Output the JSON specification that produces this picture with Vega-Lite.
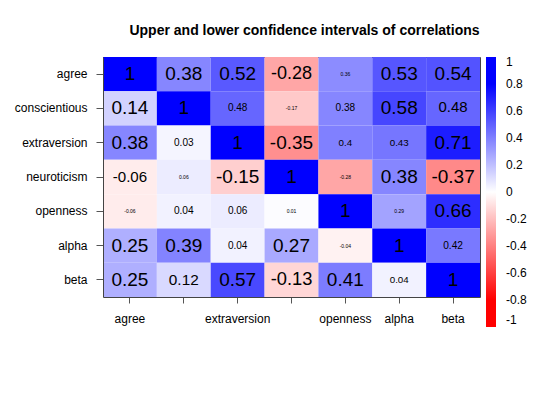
{
  "$schema": "https://vega.github.io/schema/vega-lite/v6.json",
  "width": 377,
  "height": 240,
  "autosize": "none",
  "padding": {"left": 103, "top": 57, "right": 60, "bottom": 103},
  "background": "white",
  "config": {
    "font": "Liberation Sans",
    "view": {"stroke": null}
  },
  "title": {
    "text": "Upper and lower confidence intervals of correlations",
    "font": "Liberation Sans",
    "fontSize": 14,
    "fontWeight": "bold",
    "color": "black",
    "anchor": "middle",
    "baseline": "alphabetic",
    "offset": 8,
    "dx": 13
  },
  "resolve": {"axis": {"x": "independent", "y": "independent"}},
  "data": {
    "values": [
      {"row": "agree", "col": "agree", "r": 1, "p": 0},
      {"row": "agree", "col": "conscientious", "r": 0.38, "p": 0},
      {"row": "agree", "col": "extraversion", "r": 0.52, "p": 0},
      {"row": "agree", "col": "neuroticism", "r": -0.28, "p": 0.07},
      {"row": "agree", "col": "openness", "r": 0.36, "p": 1},
      {"row": "agree", "col": "alpha", "r": 0.53, "p": 0},
      {"row": "agree", "col": "beta", "r": 0.54, "p": 0},
      {"row": "conscientious", "col": "agree", "r": 0.14, "p": 0},
      {"row": "conscientious", "col": "conscientious", "r": 1, "p": 0},
      {"row": "conscientious", "col": "extraversion", "r": 0.48, "p": 0.64},
      {"row": "conscientious", "col": "neuroticism", "r": -0.17, "p": 1},
      {"row": "conscientious", "col": "openness", "r": 0.38, "p": 0.64},
      {"row": "conscientious", "col": "alpha", "r": 0.58, "p": 0},
      {"row": "conscientious", "col": "beta", "r": 0.48, "p": 0.29},
      {"row": "extraversion", "col": "agree", "r": 0.38, "p": 0},
      {"row": "extraversion", "col": "conscientious", "r": 0.03, "p": 0.64},
      {"row": "extraversion", "col": "extraversion", "r": 1, "p": 0},
      {"row": "extraversion", "col": "neuroticism", "r": -0.35, "p": 0},
      {"row": "extraversion", "col": "openness", "r": 0.4, "p": 0.66},
      {"row": "extraversion", "col": "alpha", "r": 0.43, "p": 0.66},
      {"row": "extraversion", "col": "beta", "r": 0.71, "p": 0},
      {"row": "neuroticism", "col": "agree", "r": -0.06, "p": 0.28},
      {"row": "neuroticism", "col": "conscientious", "r": 0.06, "p": 1},
      {"row": "neuroticism", "col": "extraversion", "r": -0.15, "p": 0},
      {"row": "neuroticism", "col": "neuroticism", "r": 1, "p": 0},
      {"row": "neuroticism", "col": "openness", "r": -0.28, "p": 1},
      {"row": "neuroticism", "col": "alpha", "r": 0.38, "p": 0},
      {"row": "neuroticism", "col": "beta", "r": -0.37, "p": 0},
      {"row": "openness", "col": "agree", "r": -0.06, "p": 1},
      {"row": "openness", "col": "conscientious", "r": 0.04, "p": 0.63},
      {"row": "openness", "col": "extraversion", "r": 0.06, "p": 0.64},
      {"row": "openness", "col": "neuroticism", "r": 0.01, "p": 1},
      {"row": "openness", "col": "openness", "r": 1, "p": 0},
      {"row": "openness", "col": "alpha", "r": 0.29, "p": 1},
      {"row": "openness", "col": "beta", "r": 0.66, "p": 0},
      {"row": "alpha", "col": "agree", "r": 0.25, "p": 0},
      {"row": "alpha", "col": "conscientious", "r": 0.39, "p": 0},
      {"row": "alpha", "col": "extraversion", "r": 0.04, "p": 0.64},
      {"row": "alpha", "col": "neuroticism", "r": 0.27, "p": 0},
      {"row": "alpha", "col": "openness", "r": -0.04, "p": 1},
      {"row": "alpha", "col": "alpha", "r": 1, "p": 0},
      {"row": "alpha", "col": "beta", "r": 0.42, "p": 0.63},
      {"row": "beta", "col": "agree", "r": 0.25, "p": 0},
      {"row": "beta", "col": "conscientious", "r": 0.12, "p": 0.26},
      {"row": "beta", "col": "extraversion", "r": 0.57, "p": 0},
      {"row": "beta", "col": "neuroticism", "r": -0.13, "p": 0.05},
      {"row": "beta", "col": "openness", "r": 0.41, "p": 0},
      {"row": "beta", "col": "alpha", "r": 0.04, "p": 0.66},
      {"row": "beta", "col": "beta", "r": 1, "p": 0}
    ]
  },
  "layer": [
    {
      "mark": {"type": "rect"},
      "encoding": {
        "x": {
          "field": "col",
          "type": "nominal",
          "sort": ["agree", "conscientious", "extraversion", "neuroticism", "openness", "alpha", "beta"],
          "scale": {"paddingInner": 0, "paddingOuter": 0},
          "axis": {
            "title": null,
            "orient": "bottom",
            "domain": true,
            "domainColor": "#444",
            "grid": false,
            "labelAngle": 0,
            "labelFontSize": 12,
            "labelColor": "black",
            "labelFont": "Liberation Sans",
            "labelPadding": 10,
            "tickSize": 6,
            "tickColor": "#555",
            "labelExpr": "datum.value == 'conscientious' || datum.value == 'neuroticism' ? '' : datum.value"
          }
        },
        "y": {
          "field": "row",
          "type": "nominal",
          "sort": ["agree", "conscientious", "extraversion", "neuroticism", "openness", "alpha", "beta"],
          "scale": {"paddingInner": 0, "paddingOuter": 0},
          "axis": {
            "title": null,
            "orient": "left",
            "domain": true,
            "domainColor": "#444",
            "grid": false,
            "labelFontSize": 12,
            "labelColor": "black",
            "labelFont": "Liberation Sans",
            "labelPadding": 9,
            "tickSize": 7,
            "tickColor": "#555"
          }
        },
        "color": {
          "field": "r",
          "type": "quantitative",
          "scale": {
            "domain": [-1, -0.8, 0, 0.8, 1],
            "range": ["#ff0000", "#ff0000", "#ffffff", "#0000ff", "#0000ff"],
            "interpolate": "rgb"
          },
          "legend": {
            "title": null,
            "orient": "none",
            "legendX": 383,
            "legendY": 0,
            "direction": "vertical",
            "gradientLength": 270,
            "gradientThickness": 10,
            "gradientStrokeWidth": 0,
            "values": [1, 0.8, 0.6, 0.4, 0.2, 0, -0.2, -0.4, -0.6, -0.8, -1],
            "labelExpr": "toString(datum.value)",
            "labelFontSize": 12,
            "labelColor": "black",
            "labelFont": "Liberation Sans",
            "labelBaseline": "middle",
            "labelOffset": 10,
            "labelOverlap": false
          }
        }
      }
    },
    {
      "mark": {"type": "text", "color": "black", "font": "Liberation Sans", "baseline": "middle", "align": "center"},
      "encoding": {
        "x": {
          "field": "col",
          "type": "nominal",
          "sort": ["agree", "conscientious", "extraversion", "neuroticism", "openness", "alpha", "beta"],
          "axis": {"title": null, "orient": "top", "domain": true, "domainColor": "#444", "ticks": false, "labels": false, "grid": false}
        },
        "y": {
          "field": "row",
          "type": "nominal",
          "sort": ["agree", "conscientious", "extraversion", "neuroticism", "openness", "alpha", "beta"],
          "axis": {"title": null, "orient": "right", "domain": true, "domainColor": "#444", "ticks": false, "labels": false, "grid": false}
        },
        "text": {"field": "r", "type": "nominal"},
        "size": {
          "field": "p",
          "type": "quantitative",
          "scale": {"domain": [0, 1], "range": [19, 5]},
          "legend": null
        }
      }
    }
  ]
}
